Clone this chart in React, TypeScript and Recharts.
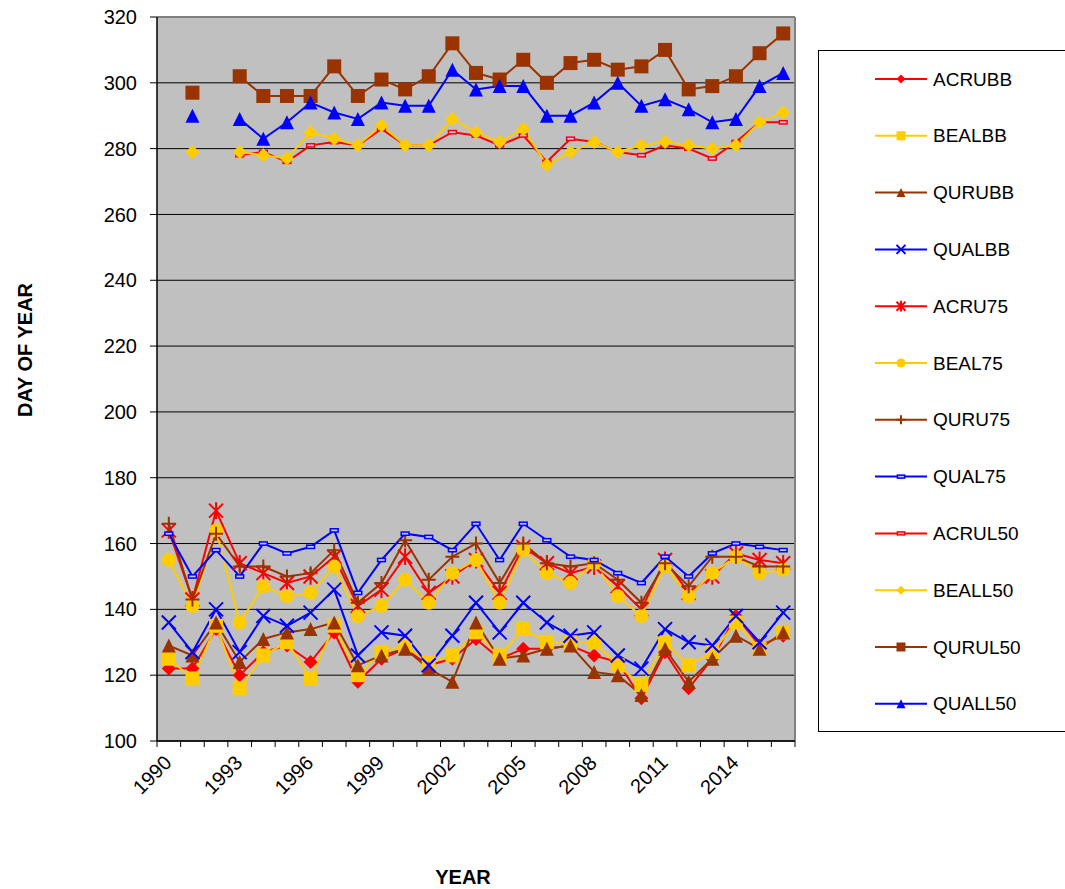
import React from 'react';
import { LineChart, Line, XAxis, YAxis, CartesianGrid, Legend, ReferenceLine, Label } from 'recharts';

const YEARS = [1990, 1991, 1992, 1993, 1994, 1995, 1996, 1997, 1998, 1999, 2000, 2001, 2002, 2003, 2004, 2005, 2006, 2007, 2008, 2009, 2010, 2011, 2012, 2013, 2014, 2015, 2016];
const LABEL_YEARS = [1990, 1993, 1996, 1999, 2002, 2005, 2008, 2011, 2014];
const Y_TICKS = [100, 120, 140, 160, 180, 200, 220, 240, 260, 280, 300, 320];

const ACRUBB = [122, 122, 134, 120, 127, 129, 124, 133, 118, 125, 128, 123, 125, 131, 125, 128, 128, 129, 126, 124, 113, 127, 116, 125, 138, 129, 132];
const BEALBB = [125, 119, 135, 116, 126, 130, 119, 135, 120, 127, 129, 124, 126, 133, 126, 134, 130, 130, 130, 123, 117, 130, 123, 127, 136, 128, 133];
const QURUBB = [129, 126, 136, 124, 131, 133, 134, 136, 123, 126, 128, 122, 118, 136, 125, 126, 128, 129, 121, 120, 114, 128, 118, 125, 132, 128, 133];
const QUALBB = [136, 127, 140, 127, 138, 135, 139, 146, 126, 133, 132, 123, 132, 142, 133, 142, 136, 132, 133, 126, 122, 134, 130, 129, 138, 130, 139];
const ACRU75 = [164, 143, 170, 154, 151, 148, 150, 156, 141, 146, 156, 145, 150, 155, 145, 159, 154, 151, 153, 147, 140, 155, 145, 150, 157, 155, 154];
const BEAL75 = [155, 141, 164, 136, 147, 144, 145, 153, 138, 141, 149, 142, 151, 155, 142, 158, 151, 148, 154, 144, 138, 153, 144, 151, 156, 151, 152];
const QURU75 = [166, 143, 163, 153, 153, 150, 151, 158, 142, 148, 161, 149, 156, 160, 148, 160, 154, 153, 154, 149, 142, 154, 147, 156, 156, 153, 153];
const QUAL75 = [163, 150, 158, 150, 160, 157, 159, 164, 145, 155, 163, 162, 158, 166, 155, 166, 161, 156, 155, 151, 148, 156, 150, 157, 160, 159, 158];
const ACRUL50 = [null, 279, null, 278, 279, 276, 281, 282, 281, 286, 281, 281, 285, 284, 281, 284, 276, 283, 282, 279, 278, 281, 280, 277, 282, 288, 288];
const BEALL50 = [null, 279, null, 279, 278, 277, 285, 283, 281, 287, 281, 281, 289, 285, 282, 286, 275, 279, 282, 279, 281, 282, 281, 280, 281, 288, 291];
const QURUL50 = [null, 297, null, 302, 296, 296, 296, 305, 296, 301, 298, 302, 312, 303, 301, 307, 300, 306, 307, 304, 305, 310, 298, 299, 302, 309, 315];
const QUALL50 = [null, 290, null, 289, 283, 288, 294, 291, 289, 294, 293, 293, 304, 298, 299, 299, 290, 290, 294, 300, 293, 295, 292, 288, 289, 299, 303];

const FONT = '"Liberation Sans", Arial, Helvetica, sans-serif';
const RED = '#FF0000';
const GOLD = '#FFCC00';
const BROWN = '#993300';
const BLUE = '#0000FF';

type Shape = 'diamond' | 'square' | 'triangle' | 'x' | 'star' | 'circle' | 'plus' | 'dash';

const SERIES: { name: string; values: (number | null)[]; color: string; shape: Shape }[] = [
  { name: 'ACRUBB', values: ACRUBB, color: RED, shape: 'diamond' },
  { name: 'BEALBB', values: BEALBB, color: GOLD, shape: 'square' },
  { name: 'QURUBB', values: QURUBB, color: BROWN, shape: 'triangle' },
  { name: 'QUALBB', values: QUALBB, color: BLUE, shape: 'x' },
  { name: 'ACRU75', values: ACRU75, color: RED, shape: 'star' },
  { name: 'BEAL75', values: BEAL75, color: GOLD, shape: 'circle' },
  { name: 'QURU75', values: QURU75, color: BROWN, shape: 'plus' },
  { name: 'QUAL75', values: QUAL75, color: BLUE, shape: 'dash' },
  { name: 'ACRUL50', values: ACRUL50, color: RED, shape: 'dash' },
  { name: 'BEALL50', values: BEALL50, color: GOLD, shape: 'diamond' },
  { name: 'QURUL50', values: QURUL50, color: BROWN, shape: 'square' },
  { name: 'QUALL50', values: QUALL50, color: BLUE, shape: 'triangle' },
];

const data = YEARS.map((year, i) => {
  const row: Record<string, number | null> = { year };
  SERIES.forEach((s) => {
    row[s.name] = s.values[i];
  });
  return row;
});

function MarkerShape({ shape, cx, cy, color, size }: { shape: Shape; cx: number; cy: number; color: string; size: number }) {
  const s = size / 2;
  switch (shape) {
    case 'diamond':
      return <polygon points={`${cx},${cy - s} ${cx + s},${cy} ${cx},${cy + s} ${cx - s},${cy}`} fill={color} />;
    case 'square':
      return <rect x={cx - s} y={cy - s} width={size} height={size} fill={color} />;
    case 'triangle':
      return <polygon points={`${cx},${cy - s} ${cx + s},${cy + s} ${cx - s},${cy + s}`} fill={color} />;
    case 'circle':
      return <circle cx={cx} cy={cy} r={s} fill={color} />;
    case 'x':
      return (
        <path d={`M${cx - s},${cy - s}L${cx + s},${cy + s}M${cx - s},${cy + s}L${cx + s},${cy - s}`} stroke={color} strokeWidth={2} fill="none" />
      );
    case 'star':
      return (
        <path
          d={`M${cx - s},${cy - s}L${cx + s},${cy + s}M${cx - s},${cy + s}L${cx + s},${cy - s}M${cx},${cy - s * 1.2}L${cx},${cy + s * 1.2}`}
          stroke={color}
          strokeWidth={2}
          fill="none"
        />
      );
    case 'plus':
      return (
        <path d={`M${cx - s},${cy}L${cx + s},${cy}M${cx},${cy - s}L${cx},${cy + s}`} stroke={color} strokeWidth={2} fill="none" />
      );
    case 'dash':
    default:
      return (
        <rect x={cx - s * 0.6} y={cy - s * 0.25} width={size * 0.6} height={size * 0.25} fill="#C0C0FF" stroke={color} strokeWidth={1.5} />
      );
  }
}

function makeDot(shape: Shape, color: string) {
  return (props: any) => {
    const { cx, cy, index, value } = props;
    const k = `d-${index}`;
    if (value == null || typeof cx !== 'number' || typeof cy !== 'number' || !isFinite(cy)) {
      return <g key={k} />;
    }
    return (
      <g key={k}>
        <MarkerShape shape={shape} cx={cx} cy={cy} color={color} size={shape === 'dash' ? 13 : 14} />
      </g>
    );
  };
}

const HALF_BAND = (795 - 157) / YEARS.length / 2;

function XTick(props: any) {
  const { x, y, payload } = props;
  const v = payload.value as number;
  const showLabel = LABEL_YEARS.includes(v);
  const isLast = v === YEARS[YEARS.length - 1];
  const ax = x + 4;
  const ay = y + 23;
  return (
    <g>
      <line x1={x - HALF_BAND} x2={x - HALF_BAND} y1={y} y2={y + 6} stroke="#000" strokeWidth={1} />
      {isLast && <line x1={x + HALF_BAND} x2={x + HALF_BAND} y1={y} y2={y + 6} stroke="#000" strokeWidth={1} />}
      {showLabel && (
        <text x={ax} y={ay} transform={`rotate(-45 ${ax} ${ay})`} textAnchor="end" fontSize={20} fontFamily={FONT} fill="#000">
          {v}
        </text>
      )}
    </g>
  );
}

function LegendBox() {
  return (
    <div
      style={{
        position: 'absolute',
        left: 818,
        top: 50,
        width: 260,
        height: 682,
        border: '1px solid #000',
        background: '#fff',
        boxSizing: 'border-box',
      }}
    >
      <svg width={260} height={682} style={{ position: 'absolute', left: -1, top: -1 }}>
        {SERIES.map((s, i) => {
          const cy = 29 + i * 56.8;
          return (
            <g key={s.name}>
              <line x1={57} x2={109} y1={cy} y2={cy} stroke={s.color} strokeWidth={2} />
              <MarkerShape shape={s.shape} cx={83} cy={cy} color={s.color} size={s.shape === 'dash' ? 12 : 9} />
              <text x={115} y={cy} dominantBaseline="central" fontSize={19} fontFamily={FONT} fill="#000">
                {s.name}
              </text>
            </g>
          );
        })}
      </svg>
    </div>
  );
}

export default function App() {
  return (
    <div style={{ position: 'absolute', left: 0, top: 0, width: 1065, height: 889, overflow: 'hidden', background: '#fff' }}>
      <LineChart
        width={1065}
        height={889}
        data={data}
        margin={{ top: 17, right: 270, bottom: 0, left: 77 }}
        style={{ fontFamily: FONT }}
      >
        <CartesianGrid horizontal vertical={false} fill="#C0C0C0" stroke="#000" strokeWidth={1} fillOpacity={1} />
        <XAxis
          dataKey="year"
          type="number"
          domain={[YEARS[0] - 0.5, YEARS[YEARS.length - 1] + 0.5]}
          ticks={YEARS}
          interval={0}
          allowDataOverflow
          height={148}
          tickSize={0}
          tickMargin={0}
          tickLine={false}
          axisLine={{ stroke: '#000', strokeWidth: 1.5 }}
          tick={<XTick />}
        >
          <Label
            content={() => (
              <text x={463} y={884} textAnchor="middle" fontSize={20} fontWeight="bold" fontFamily={FONT} fill="#000">
                YEAR
              </text>
            )}
          />
        </XAxis>
        <YAxis
          type="number"
          domain={[100, 320]}
          ticks={Y_TICKS}
          interval={0}
          allowDataOverflow
          width={80}
          tickSize={7}
          tickMargin={13}
          tickLine={{ stroke: '#000' }}
          axisLine={{ stroke: '#000', strokeWidth: 1.5 }}
          tick={{ fontSize: 20, fill: '#000', fontFamily: FONT }}
        >
          <Label
            content={() => (
              <text
                x={32}
                y={350}
                transform="rotate(-90 32 350)"
                textAnchor="middle"
                fontSize={20}
                fontWeight="bold"
                fontFamily={FONT}
                fill="#000"
              >
                DAY OF YEAR
              </text>
            )}
          />
        </YAxis>
        <ReferenceLine y={320} stroke="#808080" strokeWidth={2} />
        <ReferenceLine x={YEARS[YEARS.length - 1] + 0.5} stroke="#808080" strokeWidth={2} />
        <Legend layout="vertical" align="right" verticalAlign="top" wrapperStyle={{ left: 0, top: 0 }} content={() => <LegendBox />} />
        {SERIES.map((s) => (
          <Line
            key={s.name}
            type="linear"
            dataKey={s.name}
            name={s.name}
            stroke={s.color}
            strokeWidth={2}
            dot={makeDot(s.shape, s.color)}
            activeDot={false}
            isAnimationActive={false}
            connectNulls={false}
          />
        ))}
      </LineChart>
    </div>
  );
}
